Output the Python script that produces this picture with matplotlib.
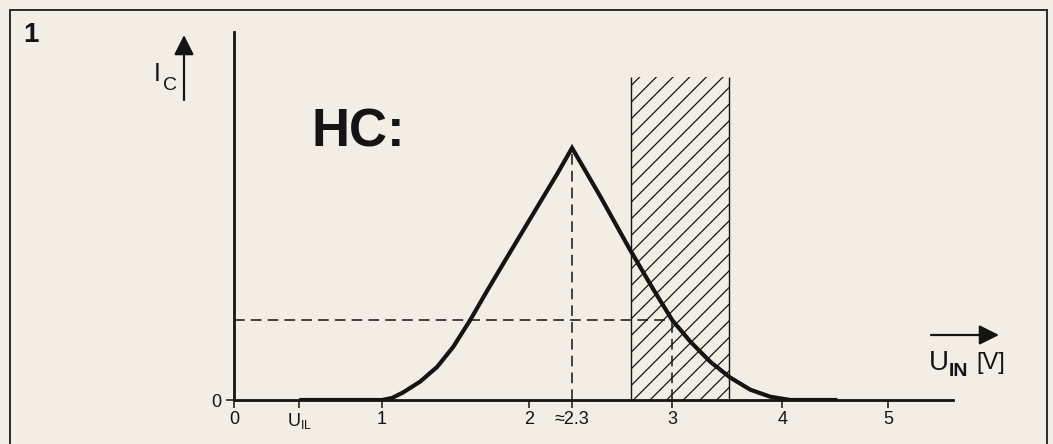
import numpy as np
import matplotlib.pyplot as plt
from matplotlib.patches import Rectangle

plt.rcParams['font.family'] = ['Liberation Sans', 'DejaVu Sans']
plt.rcParams['hatch.linewidth'] = 0.9

# collector current vs. input voltage (I_C relative to the peak)
u_in = [0.44, 1.000, 1.068, 1.143, 1.259, 1.374, 1.483, 1.599, 1.714, 1.823,
        2.056, 2.196, 2.300, 2.497, 2.706, 2.867, 3.000, 3.164, 3.345, 3.527,
        3.709, 3.891, 4.075, 4.52]
i_c = [0.0, 0.0, 0.008, 0.030, 0.073, 0.131, 0.210, 0.317, 0.433, 0.540,
       0.765, 0.897, 1.000, 0.808, 0.595, 0.440, 0.317, 0.232, 0.152, 0.089,
       0.041, 0.013, 0.0, 0.0]

u_peak = 2.3          # switching point, where I_C peaks
u_work = 3.0          # operating point on the falling edge
i_work = 0.317
band_lo, band_hi, band_top = 2.71, 3.52, 1.28   # hatched input band

tick_pos = [0, 0.44, 1, 2, 2.3, 3, 4, 5]
tick_lab = ['0', r'$\mathregular{U_{IL}}$', '1', '2', '\u22482.3', '3', '4', '5']

# the voltage axis of the sketch is not drawn to a linear scale
knot_v = [0, 1, 2, 3, 4, 5, 6]
knot_p = [0, 148, 295, 438, 548, 654, 760]


def fwd(v):
    return np.interp(v, knot_v, knot_p)


def inv(p):
    return np.interp(p, knot_p, knot_v)


paper = '#f2eee6'
ink = '#141414'
W, H = 1053, 444


def px(x, y):
    return x / W, 1 - y / H


fig = plt.figure(figsize=(W / 100, H / 100), dpi=100, facecolor=paper)
ax = fig.add_axes([234 / W, 44 / H, (953 - 234) / W, (400 - 32) / H])
ax.set_facecolor('none')
ax.set_xscale('function', functions=(fwd, inv))
ax.set_xlim(0, 5.61)
ax.set_ylim(0, 1.46)

for s in ['top', 'right']:
    ax.spines[s].set_visible(False)
for s in ['left', 'bottom']:
    ax.spines[s].set_linewidth(2.0)
    ax.spines[s].set_color(ink)

ax.set_xticks(tick_pos, labels=tick_lab)
ax.set_yticks([0], labels=['0'])
ax.tick_params(axis='both', direction='out', length=6, width=1.1, color=ink,
               labelsize=13, labelcolor=ink)
ax.tick_params(axis='x', pad=2)
ax.tick_params(axis='y', pad=3)

# hatched band
ax.fill_between([band_lo, band_hi], 0, band_top, facecolor='none',
                edgecolor=ink, hatch='//', linewidth=0, zorder=1)
ax.vlines([band_lo, band_hi], 0, band_top, color=ink, lw=1.0, zorder=2)

# guide lines to peak and operating point
dash = (0, (7, 4))
ax.plot([0, u_work], [i_work, i_work], color=ink, lw=1.1, ls=dash, zorder=3)
ax.plot([u_peak, u_peak], [0, max(i_c)], color=ink, lw=1.1, ls=dash, zorder=3)
ax.plot([u_work, u_work], [0, i_work], color=ink, lw=1.1, ls=dash, zorder=3)

ax.plot(u_in, i_c, color=ink, lw=3.0, solid_joinstyle='miter',
        solid_capstyle='butt', zorder=4)

# frame around the figure
fig.add_artist(Rectangle(px(10, 520), (1047 - 10) / W, (520 - 10) / H,
                         transform=fig.transFigure, fill=False,
                         edgecolor='#2a2a2a', lw=1.4))

fig.text(*px(31, 35), '1', fontsize=20, fontweight='bold', color=ink,
         ha='center', va='center')
fig.text(*px(358, 132), 'HC:', fontsize=38, fontweight='bold', color=ink,
         ha='center', va='center')

# axis arrows and labels
arrow = dict(arrowstyle='-|>,head_length=1.0,head_width=0.5', color=ink, lw=1.6,
             mutation_scale=12, shrinkA=0, shrinkB=0)
ax.annotate('', xy=(184, H - 35), xytext=(184, H - 100),
            xycoords='figure pixels', textcoords='figure pixels',
            arrowprops=arrow)
ax.annotate('', xy=(999, H - 335), xytext=(931, H - 335),
            xycoords='figure pixels', textcoords='figure pixels',
            arrowprops=arrow)

fig.text(*px(157, 74), 'I', fontsize=18, color=ink, ha='center', va='center')
fig.text(*px(170, 86), 'C', fontsize=14, color=ink, ha='center', va='center')
fig.text(*px(939, 363), 'U', fontsize=20, color=ink, ha='center', va='center')
fig.text(*px(959, 371), 'IN', fontsize=14, fontweight='bold', color=ink,
         ha='center', va='center')
fig.text(*px(991, 363), '[V]', fontsize=17, color=ink, ha='center', va='center')

fig.savefig('out.png', dpi=100, facecolor=paper)
